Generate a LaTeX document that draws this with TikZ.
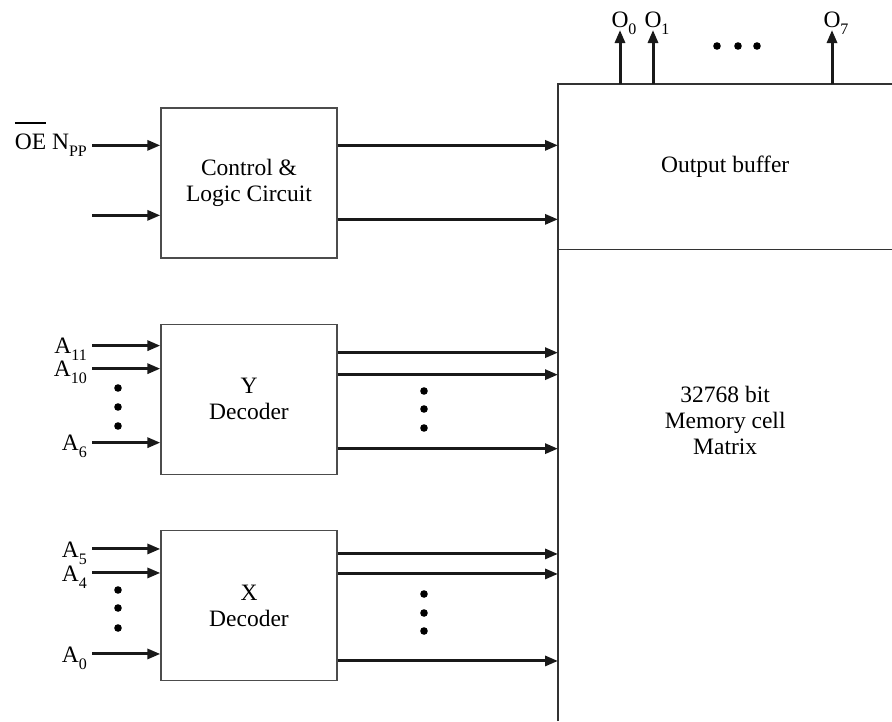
\documentclass[tikz,border=0pt]{standalone}
\usepackage{fontspec}
\setmainfont{Liberation Serif}
\usetikzlibrary{arrows.meta, positioning, calc}
\newcommand{\lowsub}[1]{\raisebox{-0.3em}{\fontsize{16}{16}\selectfont #1}}
\newcommand{\barOE}{\smash{\rlap{\rule[26pt]{1.33em}{1.2pt}}}OE}

\begin{document}
\begin{tikzpicture}[
  x=1pt, y=-1pt,
  txt/.style={font=\fontsize{23.5}{26}\selectfont, align=center},
  block/.style={draw=black!70, line width=1.3pt, txt, minimum width=176pt, minimum height=150pt, inner sep=0pt},
  region/.style={txt, minimum width=334pt, inner sep=0pt},
  boxline/.style={draw=black!80, line width=1.3pt},
  sig/.style={-{Triangle[length=13pt, width=10pt]}, line width=3pt, draw=black!90},
  pin/.style={txt, inner sep=4pt}
]
  \useasboundingbox (0,0) rectangle (892,721);

  % Decoders and control (left)
  \node[block] (ctrl) at (249,183) {Control \&\\Logic Circuit};
  \node[block, below=65pt of ctrl] (ydec) {Y\\Decoder};
  \node[block, below=55pt of ydec] (xdec) {X\\Decoder};

  % Output buffer and memory matrix (right)
  \node[region, minimum height=165pt, anchor=north west] (outbuf) at (558,84) {Output buffer};
  \node[region, minimum height=342pt, below=0pt of outbuf] (memcell) {32768 bit\\Memory cell\\Matrix};
  \coordinate (membot) at (558,721);
  \draw[boxline] (membot) -- (outbuf.north west) -- (outbuf.north east);
  \draw[boxline] (outbuf.south west) -- (outbuf.south east);

  % Control inputs and outputs
  \foreach \dy/\lab [count=\i] in {38/{\barOE{} N\lowsub{PP}}, 108/{}} {
    \path (ctrl.north west) ++(-68,\dy) coordinate (cin\i);
    \draw[sig] (cin\i) node[pin, anchor=east] {\lab} -- (cin\i -| ctrl.west);
  }
  \foreach \dy [count=\i] in {38,112} {
    \path (ctrl.north east) ++(0,\dy) coordinate (cout\i);
    \draw[sig] (cout\i) -- (cout\i -| outbuf.west);
  }

  % Y decoder
  \foreach \dy/\k in {22/11, 45/10, 119/6} {
    \path (ydec.north west) ++(-68,\dy) coordinate (yin\k);
    \draw[sig] (yin\k) node[pin, anchor=east, yshift=-4pt] {A\lowsub{\k}} -- (yin\k -| ydec.west);
  }
  \foreach \dy [count=\i] in {29,51,125} {
    \path (ydec.north east) ++(0,\dy) coordinate (yout\i);
    \draw[sig] (yout\i) -- (yout\i -| memcell.west);
  }
  \foreach \y in {388,407,426} \fill (118,\y) circle (3.8pt);
  \foreach \y in {391,409,428} \fill (424,\y) circle (3.8pt);

  % X decoder
  \foreach \dy/\k in {19/5, 43/4, 124/0} {
    \path (xdec.north west) ++(-68,\dy) coordinate (xin\k);
    \draw[sig] (xin\k) node[pin, anchor=east, yshift=-4pt] {A\lowsub{\k}} -- (xin\k -| xdec.west);
  }
  \foreach \dy [count=\i] in {24,44,131} {
    \path (xdec.north east) ++(0,\dy) coordinate (xout\i);
    \draw[sig] (xout\i) -- (xout\i -| memcell.west);
  }
  \foreach \y in {590,608,628} \fill (118,\y) circle (3.8pt);
  \foreach \y in {594,613,631} \fill (424,\y) circle (3.8pt);

  % Data outputs
  \foreach \dx/\k in {62/0, 95/1, 274/7} {
    \path (outbuf.north west) ++(\dx,0) coordinate (ob\k);
    \path (ob\k) ++(0,-54) coordinate (otip\k);
    \draw[sig] (ob\k) -- (otip\k) node[txt, anchor=base, inner sep=0pt, yshift=3pt] {O\rlap{\lowsub{\k}}};
  }
  \foreach \x in {717,738,757} \fill (\x,46) circle (3.8pt);

\end{tikzpicture}
\end{document}
